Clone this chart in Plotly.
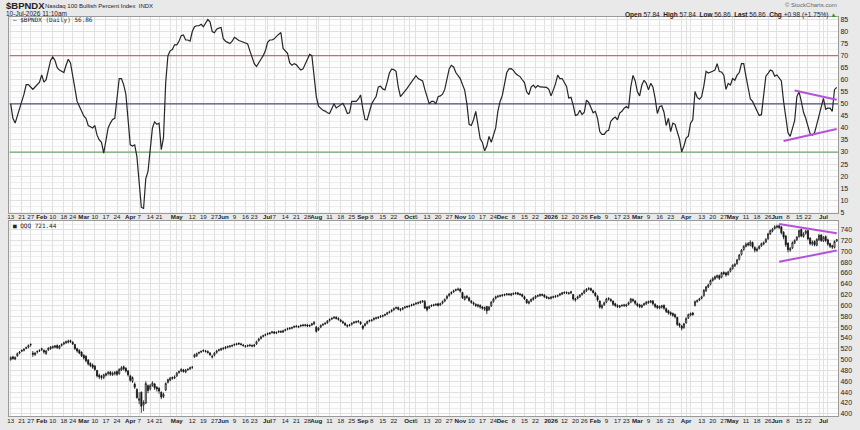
import pandas as pd
import plotly.graph_objects as go

# ---------------- data ----------------
holidays = ["2025-01-20", "2025-02-17", "2025-04-18", "2025-05-26", "2025-06-19", "2025-07-04",
            "2025-09-01", "2025-11-27", "2025-12-25", "2026-01-01", "2026-01-19", "2026-02-16",
            "2026-04-03", "2026-05-25", "2026-06-19", "2026-07-03"]
trading_days = pd.bdate_range("2025-01-13", "2026-07-10")
trading_days = trading_days[~trading_days.isin(pd.to_datetime(holidays))]

bpndx = [
    50, 44, 42, 45, 47, 50, 54, 58, 58, 57,
    56, 57, 58, 59, 62, 59, 60, 64, 68, 69.5,
    68, 65, 64, 63.5, 63, 66, 68.5, 67, 62, 56,
    51, 49, 47, 45, 44, 41, 40.5, 40, 41, 37,
    35, 34, 29.5, 34, 40, 42, 43.5, 44, 52, 60.5,
    60.5, 58, 54, 45, 33, 32.5, 33, 28, 18, 7,
    6.6, 19, 22, 30, 40, 42.5, 41.5, 42, 31, 36,
    59, 70, 72, 72.5, 74.5, 74.5, 76, 78.3, 78.6, 76.5,
    76.5, 76, 80, 82, 82.4, 82.4, 83, 82, 83.5, 85,
    84, 80, 79.5, 81, 81.4, 81.7, 77, 76, 75.5, 75,
    76, 77.6, 77, 76.3, 76, 75.7, 75.3, 74.9, 72, 69,
    66.7, 65.5, 67.3, 68.5, 70, 72, 75.5, 76.5, 76.5, 77,
    78, 79, 79.6, 73, 71.8, 71, 67, 66, 66.7, 66.2,
    65, 64, 64.5, 66.5, 68, 70.5, 70, 62, 53, 49,
    48, 47.3, 47, 46.3, 46, 48, 50, 48.3, 48.9, 49.6,
    50.2, 48.5, 46, 46.3, 51, 51, 51, 52, 53.7, 48,
    43.5, 43.4, 47, 50, 51.6, 53, 57, 57.3, 56.2, 55.8,
    59, 62.8, 64.4, 64.2, 63.5, 57, 53, 54, 55.3, 56.4,
    57.8, 59, 60.3, 61.7, 60.5, 60, 59.5, 56, 53, 50,
    51, 51, 50, 53, 53.3, 54, 56, 60, 64.5, 66,
    65.3, 63, 61.5, 60.5, 58, 55.7, 50, 41.5, 41, 43.4,
    46.9, 42, 35.5, 34, 30.5, 32.5, 36.5, 34, 37.3, 40,
    47, 51, 53.5, 58.5, 63, 64.5, 64.6, 63.9, 62.6, 61.9,
    61.3, 60, 58.8, 55, 53.8, 57, 57.8, 56.6, 57.6, 57,
    57, 57, 56.8, 56, 53.3, 55.7, 58.3, 61.9, 60.5, 60.5,
    59, 57.2, 52.4, 52.7, 49.5, 45.2, 45.5, 47.3, 45.6, 46.5,
    51.5, 50.6, 48.5, 46.3, 46.9, 44, 38.5, 37.3, 37.3, 38.6,
    39, 42.8, 43.8, 44.5, 43.4, 46.2, 46.9, 48.2, 48.9, 48.2,
    57, 61.8, 59.5, 55, 53.3, 57.8, 59.8, 58.5, 55.8, 58.5,
    57, 52.3, 46, 48.8, 49.2, 46.5, 41, 44, 38.5, 42,
    41.5, 38.8, 35.3, 30.1, 32.5, 35.8, 36.6, 42, 43.4, 55.1,
    52.7, 51.9, 53, 57.5, 63.5, 62.8, 63, 63.5, 64, 66.7,
    63.4, 63.2, 62, 56, 58.5, 57.8, 60.5, 59.8, 61.9, 63,
    66.7, 66.7, 61.5, 56, 52, 51, 48.9, 47.5, 45.2, 45.5,
    55, 61.5, 62.6, 64, 63.6, 61.5, 62, 60.5, 59.5, 51,
    45, 38, 36.5, 40, 43, 53, 55, 51, 46.5, 44,
    41, 37.5, 37, 38, 41.5, 45, 48, 52.3, 47.8, 48.2,
    48.2, 46.9, 55.88, 56.86]

qqq_open = [
    500, 505, 501, 507, 512, 517, 517, 521, 523, 527,
    512, 509, 514, 516, 520, 517, 511, 518, 520, 522,
    523, 526, 521, 526, 529, 531, 532, 535, 532, 528,
    520, 517, 514, 508, 506, 499, 493, 490, 488, 480,
    471, 469, 467, 471, 474, 477, 472, 474, 478, 474,
    481, 487, 484, 479, 470, 460, 455, 445, 425, 440,
    416, 420, 452, 446, 452, 455, 449, 447, 440, 432,
    444, 458, 462, 465, 466, 470, 476, 479, 481, 477,
    482, 483, 486, 505, 507, 512, 514, 516, 516, 515,
    512, 506, 508, 513, 517, 518, 520, 521, 523, 524,
    525, 527, 528, 530, 529, 527, 524, 525, 527, 526,
    525, 529, 535, 539, 543, 545, 547, 548, 550, 551,
    549, 551, 552, 551, 554, 556, 557, 558, 560, 562,
    560, 562, 564, 563, 564, 562, 564, 566, 560, 555,
    560, 564, 566, 568, 572, 575, 577, 578, 576, 573,
    570, 567, 563, 563, 565, 568, 569, 571, 569, 562,
    563, 567, 571, 572, 574, 576, 577, 579, 580, 582,
    584, 587, 589, 592, 595, 596, 593, 593, 596, 597,
    598, 600, 601, 603, 604, 605, 607, 607, 597, 595,
    599, 600, 601, 603, 601, 604, 608, 613, 618, 622,
    625, 628, 629, 630, 624, 611, 617, 614, 608, 605,
    602, 601, 600, 597, 593, 598, 592, 599, 607, 613,
    616, 617, 618, 619, 620, 621, 619, 621, 622, 623,
    621, 620, 616, 611, 604, 608, 611, 614, 617, 618,
    620, 619, 616, 614, 613, 615, 616, 617, 619, 621,
    623, 624, 622, 623, 620, 610, 613, 616, 620, 623,
    627, 630, 631, 627, 623, 617, 608, 596, 601, 606,
    613, 611, 608, 603, 600, 597, 600, 601, 599, 602,
    606, 611, 608, 603, 601, 597, 601, 603, 605, 606,
    608, 602, 599, 595, 597, 600, 594, 590, 587, 585,
    583, 578, 566, 562, 559, 568, 577, 582, 586, 600,
    607, 610, 613, 618, 627, 634, 639, 646, 649, 652,
    655, 652, 661, 660, 657, 663, 668, 673, 677, 685,
    694, 703, 709, 714, 711, 716, 707, 701, 705, 710,
    713, 717, 723, 732, 737, 742, 744, 747, 745, 735,
    728, 715, 702, 706, 715, 721, 727, 740, 727, 733,
    738, 724, 713, 718, 711, 721, 730, 719, 727, 721,
    714, 710, 707, 719]

qqq_high = [
    506, 507, 506, 513, 516, 519, 521, 524, 528, 530,
    516, 514, 517, 519, 522, 519, 518, 523, 525, 526,
    527, 528, 527, 530, 533, 535, 537, 537, 534, 529,
    522, 519, 515, 510, 508, 501, 495, 493, 490, 481,
    474, 472, 474, 476, 479, 479, 478, 479, 480, 484,
    488, 489, 486, 481, 472, 469, 458, 447, 440, 441,
    425, 460, 454, 455, 460, 457, 451, 449, 441, 439,
    458, 465, 468, 469, 471, 477, 480, 484, 483, 483,
    484, 487, 488, 511, 513, 515, 517, 519, 518, 517,
    514, 509, 514, 518, 520, 522, 523, 525, 526, 527,
    528, 530, 531, 532, 531, 529, 527, 528, 529, 528,
    529, 535, 540, 544, 546, 548, 550, 551, 553, 553,
    552, 554, 554, 555, 557, 559, 560, 561, 563, 564,
    563, 565, 566, 566, 566, 565, 568, 571, 562, 560,
    565, 567, 569, 573, 576, 578, 580, 580, 578, 575,
    572, 569, 565, 566, 569, 571, 572, 573, 571, 564,
    568, 572, 574, 575, 578, 579, 580, 582, 583, 585,
    588, 590, 593, 596, 598, 598, 595, 597, 599, 600,
    601, 603, 604, 606, 607, 609, 610, 610, 599, 600,
    602, 603, 604, 605, 605, 609, 613, 619, 623, 626,
    629, 631, 633, 632, 625, 618, 619, 616, 610, 607,
    604, 603, 602, 599, 598, 599, 599, 608, 614, 618,
    619, 620, 621, 622, 623, 623, 623, 624, 625, 625,
    623, 622, 618, 612, 609, 613, 616, 619, 620, 622,
    622, 621, 618, 616, 617, 618, 619, 620, 623, 625,
    626, 626, 625, 627, 621, 614, 618, 621, 624, 629,
    632, 634, 633, 629, 625, 619, 609, 602, 607, 614,
    615, 613, 609, 605, 602, 601, 602, 603, 603, 607,
    614, 613, 610, 605, 603, 602, 605, 608, 609, 610,
    610, 604, 601, 600, 601, 602, 596, 592, 589, 587,
    585, 579, 568, 564, 568, 578, 585, 587, 588, 609,
    611, 614, 618, 630, 636, 640, 648, 652, 655, 657,
    657, 662, 663, 662, 664, 670, 676, 678, 686, 695,
    704, 711, 716, 717, 720, 718, 709, 707, 711, 716,
    718, 724, 734, 740, 743, 748, 749, 749, 746, 737,
    730, 716, 708, 718, 722, 728, 740, 742, 735, 740,
    740, 726, 720, 720, 724, 732, 731, 728, 729, 723,
    716, 712, 720, 722]

qqq_low = [
    498, 500, 499, 505, 510, 514, 515, 519, 521, 524,
    505, 507, 511, 514, 516, 511, 509, 516, 518, 520,
    521, 520, 519, 524, 527, 529, 530, 531, 527, 518,
    513, 510, 505, 500, 495, 489, 486, 483, 479, 467,
    464, 463, 464, 469, 471, 470, 470, 471, 470, 472,
    479, 480, 476, 469, 459, 457, 446, 428, 418, 402,
    405, 418, 438, 443, 450, 444, 441, 437, 427, 429,
    442, 456, 460, 463, 464, 468, 474, 477, 476, 475,
    479, 481, 483, 503, 505, 510, 512, 514, 513, 511,
    507, 502, 506, 511, 515, 516, 518, 519, 521, 522,
    523, 525, 526, 527, 526, 524, 522, 523, 524, 523,
    523, 527, 533, 537, 541, 543, 545, 546, 548, 547,
    547, 549, 549, 549, 552, 554, 555, 556, 558, 559,
    558, 560, 561, 561, 560, 560, 562, 564, 550, 553,
    558, 562, 564, 566, 570, 573, 575, 574, 572, 569,
    566, 562, 559, 561, 563, 566, 567, 568, 564, 555,
    561, 565, 569, 570, 572, 574, 575, 577, 578, 580,
    582, 585, 587, 590, 593, 591, 589, 591, 594, 595,
    596, 598, 599, 601, 602, 603, 605, 594, 589, 593,
    597, 598, 599, 598, 599, 602, 606, 611, 616, 620,
    623, 626, 627, 624, 612, 609, 612, 607, 603, 600,
    597, 596, 594, 592, 590, 584, 590, 597, 605, 611,
    614, 615, 616, 617, 618, 618, 617, 619, 620, 619,
    618, 615, 610, 603, 602, 606, 609, 612, 615, 616,
    617, 614, 612, 611, 611, 613, 614, 615, 617, 619,
    621, 621, 620, 621, 609, 607, 611, 614, 618, 621,
    625, 628, 626, 622, 616, 607, 594, 593, 599, 604,
    609, 606, 599, 597, 595, 595, 597, 597, 597, 600,
    604, 606, 601, 597, 595, 595, 599, 601, 603, 604,
    600, 595, 593, 593, 594, 592, 586, 583, 581, 579,
    576, 562, 559, 554, 557, 566, 575, 580, 581, 598,
    605, 608, 611, 616, 625, 632, 637, 644, 647, 650,
    647, 650, 656, 653, 655, 661, 666, 671, 675, 683,
    692, 701, 707, 709, 709, 705, 698, 699, 703, 708,
    711, 715, 721, 730, 735, 740, 742, 741, 731, 722,
    708, 698, 699, 704, 713, 719, 725, 726, 725, 731,
    720, 711, 710, 709, 709, 719, 717, 717, 717, 710,
    706, 704, 705, 717]

qqq_close = [
    504, 502, 504, 511, 514, 516, 519, 522, 526, 528,
    510, 512, 515, 517, 519, 514, 516, 521, 523, 524,
    525, 522, 525, 528, 531, 533, 534, 533, 529, 520,
    516, 512, 507, 503, 498, 492, 489, 486, 482, 470,
    468, 467, 472, 474, 476, 473, 475, 476, 473, 482,
    485, 483, 479, 472, 462, 467, 449, 430, 428, 414,
    421, 456, 443, 452, 457, 448, 446, 442, 431, 436,
    456, 463, 466, 467, 468, 475, 478, 482, 478, 481,
    482, 485, 486, 509, 511, 513, 515, 517, 515, 513,
    509, 505, 512, 516, 518, 520, 521, 523, 524, 525,
    526, 528, 529, 529, 528, 526, 525, 526, 526, 525,
    527, 533, 538, 542, 544, 546, 548, 549, 551, 549,
    550, 552, 551, 553, 555, 557, 558, 559, 561, 561,
    561, 563, 563, 564, 562, 563, 566, 569, 552, 558,
    563, 565, 567, 571, 574, 576, 578, 576, 574, 571,
    568, 564, 562, 564, 567, 569, 570, 570, 566, 558,
    566, 570, 572, 573, 576, 577, 578, 580, 581, 583,
    586, 588, 591, 594, 596, 593, 592, 595, 597, 598,
    599, 601, 602, 604, 605, 607, 608, 595, 592, 598,
    600, 601, 602, 600, 603, 607, 611, 617, 621, 624,
    627, 629, 630, 626, 614, 616, 615, 609, 606, 603,
    600, 599, 597, 595, 596, 590, 597, 606, 612, 616,
    617, 618, 619, 620, 621, 620, 621, 622, 623, 621,
    620, 617, 612, 605, 607, 611, 614, 617, 618, 620,
    619, 616, 614, 613, 615, 616, 617, 618, 621, 623,
    624, 623, 623, 625, 612, 612, 616, 619, 622, 627,
    630, 631, 628, 624, 618, 610, 597, 600, 605, 612,
    612, 609, 602, 600, 598, 599, 600, 600, 601, 605,
    612, 609, 604, 600, 598, 600, 603, 606, 607, 608,
    603, 598, 596, 598, 599, 595, 589, 586, 584, 582,
    579, 565, 563, 558, 566, 576, 583, 585, 583, 607,
    609, 612, 616, 628, 634, 638, 646, 650, 653, 655,
    650, 660, 659, 656, 662, 668, 674, 676, 684, 693,
    702, 709, 713, 712, 717, 708, 702, 704, 709, 714,
    716, 722, 732, 738, 741, 745, 746, 744, 734, 726,
    712, 703, 705, 716, 720, 726, 738, 728, 732, 737,
    723, 714, 717, 712, 722, 729, 720, 726, 720, 713,
    709, 708, 718, 721.44]

tick_dates = [
    "2025-01-13", "2025-01-21", "2025-01-27", "2025-02-03", "2025-02-10", "2025-02-18", "2025-02-24",
    "2025-03-03", "2025-03-10", "2025-03-17", "2025-03-24", "2025-04-01", "2025-04-07", "2025-04-14",
    "2025-04-21", "2025-05-01", "2025-05-12", "2025-05-19", "2025-05-27", "2025-06-02", "2025-06-09",
    "2025-06-16", "2025-06-23", "2025-07-01", "2025-07-07", "2025-07-14", "2025-07-21", "2025-07-28",
    "2025-08-01", "2025-08-11", "2025-08-18", "2025-08-25", "2025-09-02", "2025-09-08", "2025-09-15",
    "2025-09-22", "2025-10-01", "2025-10-06", "2025-10-13", "2025-10-20", "2025-10-27", "2025-11-03",
    "2025-11-10", "2025-11-17", "2025-11-24", "2025-12-01", "2025-12-08", "2025-12-15", "2025-12-22",
    "2026-01-02", "2026-01-12", "2026-01-20", "2026-01-26", "2026-02-02", "2026-02-09", "2026-02-17",
    "2026-02-23", "2026-03-02", "2026-03-09", "2026-03-16", "2026-03-23", "2026-04-01", "2026-04-13",
    "2026-04-20", "2026-04-27", "2026-05-01", "2026-05-11", "2026-05-18", "2026-05-26", "2026-06-01",
    "2026-06-08", "2026-06-15", "2026-06-22", "2026-07-01"]
tick_labels = [
    "13", "21", "27", "<b>Feb</b>", "10", "18", "24",
    "<b>Mar</b>", "10", "17", "24", "<b>Apr</b>", "7", "14",
    "21", "<b>May</b>", "12", "19", "27", "<b>Jun</b>", "9",
    "16", "23", "<b>Jul</b>", "7", "14", "21", "28",
    "<b>Aug</b>", "11", "18", "25", "<b>Sep</b>", "8", "15",
    "22", "<b>Oct</b>", "6", "13", "20", "27", "<b>Nov</b>",
    "10", "17", "24", "<b>Dec</b>", "8", "15", "22",
    "<b>2026</b>", "12", "20", "26", "<b>Feb</b>", "9", "17",
    "23", "<b>Mar</b>", "9", "16", "23", "<b>Apr</b>", "13",
    "20", "27", "<b>May</b>", "11", "18", "26", "<b>Jun</b>",
    "8", "15", "22", "<b>Jul</b>"]

ref_levels = [70, 50, 30]
ref_colors = ["#d06a6a", "#4e4e7e", "#6fa86f"]

bp_trend_upper_dates, bp_trend_upper_vals = ["2026-06-11", "2026-07-10"], [55.5, 51.7]
bp_trend_lower_dates, bp_trend_lower_vals = ["2026-06-04", "2026-07-10"], [34.6, 39.6]
qqq_trend_upper_dates, qqq_trend_upper_vals = ["2026-06-02", "2026-07-10"], [750.4, 733.0]
qqq_trend_lower_dates, qqq_trend_lower_vals = ["2026-06-02", "2026-07-10"], [680.4, 701.2]

# ---------------- positions ----------------
n = min(len(trading_days), len(bpndx), len(qqq_close))
days = trading_days[:n]
xi = list(range(n))


def pos(d):
    return int(days.get_loc(pd.Timestamp(d)))


tick_pos = [pos(d) for d in tick_dates]
week_starts = [i for i in range(n) if i == 0 or days[i].weekday() < days[i - 1].weekday()]
minor_pos = [i for i in week_starts if i not in tick_pos]

W, H = 860, 430
PX0, PX1 = 7.5, 838
TOP0, TOP1 = 16, 213.5
BOT0, BOT1 = 222, 419
xdom = [PX0 / W, PX1 / W]
ytop_dom = [1 - TOP1 / H, 1 - TOP0 / H]
ybot_dom = [1 - BOT1 / H, 1 - BOT0 / H]
xrange_ = [-0.55, n - 1 + 0.6]

GRID = "#e1e1e1"
MINOR = "#eeeeee"
LINE = "#9a9a9a"
TXT = "#222222"
FONT = "Liberation Sans"

fig = go.Figure()

# horizontal reference levels (drawn first, under the indicator line)
for lv, col in zip(ref_levels, ref_colors):
    fig.add_trace(go.Scatter(x=[xrange_[0], xrange_[1]], y=[lv, lv], mode="lines",
                             line=dict(color=col, width=1.2), xaxis="x", yaxis="y", hoverinfo="skip"))

fig.add_trace(go.Scatter(x=xi, y=bpndx[:n], mode="lines", line=dict(color="#262626", width=1.2),
                         xaxis="x", yaxis="y", hoverinfo="skip"))
fig.add_trace(go.Candlestick(x=xi, open=qqq_open[:n], high=qqq_high[:n], low=qqq_low[:n], close=qqq_close[:n],
                             increasing=dict(line=dict(color="#111111", width=0.8), fillcolor="#ffffff"),
                             decreasing=dict(line=dict(color="#111111", width=0.8), fillcolor="#111111"),
                             whiskerwidth=0, xaxis="x2", yaxis="y2", hoverinfo="skip"))

for dts, vals, ax in [(bp_trend_upper_dates, bp_trend_upper_vals, "y"),
                      (bp_trend_lower_dates, bp_trend_lower_vals, "y"),
                      (qqq_trend_upper_dates, qqq_trend_upper_vals, "y2"),
                      (qqq_trend_lower_dates, qqq_trend_lower_vals, "y2")]:
    fig.add_trace(go.Scatter(x=[pos(d) for d in dts], y=vals, mode="lines",
                             line=dict(color="#b552d9", width=2),
                             xaxis="x" if ax == "y" else "x2", yaxis=ax, hoverinfo="skip"))

xaxis_common = dict(domain=xdom, range=xrange_, tickmode="array", tickvals=tick_pos, ticktext=tick_labels,
                    tickangle=0, tickfont=dict(family=FONT, size=6.2, color=TXT),
                    showgrid=True, gridcolor=GRID, gridwidth=1,
                    minor=dict(tickvals=minor_pos, showgrid=True, gridcolor=GRID, gridwidth=1),
                    showline=True, linecolor=LINE, linewidth=1, mirror=True, zeroline=False, ticks="",
                    fixedrange=True, ticklabelstandoff=-2)

fig.update_layout(
    width=W, height=H, margin=dict(l=0, r=0, t=0, b=0),
    paper_bgcolor="#e9e9e9", plot_bgcolor="#fdfdfd", showlegend=False,
    xaxis=dict(anchor="y", **xaxis_common),
    xaxis2=dict(anchor="y2", rangeslider=dict(visible=False), **xaxis_common),
    yaxis=dict(domain=ytop_dom, range=[4.9, 86.1], side="right", tickmode="array",
               tickvals=list(range(5, 90, 5)), tickfont=dict(family=FONT, size=7, color=TXT),
               showgrid=True, gridcolor=GRID, showline=True, linecolor=LINE, mirror=True,
               zeroline=False, ticks="", anchor="x", fixedrange=True,
               minor=dict(dtick=2.5, tick0=2.5, showgrid=True, gridcolor=MINOR)),
    yaxis2=dict(domain=ybot_dom, range=[395.8, 755.9], side="right", tickmode="array",
                tickvals=list(range(400, 760, 20)), tickfont=dict(family=FONT, size=7, color=TXT),
                showgrid=True, gridcolor=GRID, showline=True, linecolor=LINE, mirror=True,
                zeroline=False, ticks="", anchor="x2", fixedrange=True,
                minor=dict(dtick=10, tick0=410, showgrid=True, gridcolor=MINOR)),
)


def ann(text, px, py, size=7, xanchor="left", family=FONT, color=TXT):
    fig.add_annotation(text=text, x=px / W, y=1 - py / H, xref="paper", yref="paper",
                       xanchor=xanchor, yanchor="middle", showarrow=False,
                       font=dict(family=family, size=size, color=color))


ann("<b>$BPNDX</b>", 2, 5, size=9.5)
ann("Nasdaq 100 Bullish Percent Index  INDX", 41, 5.5, size=6)
ann("10-Jul-2026 11:10am", 2, 13, size=6.5)
ann("© StockCharts.com", 839, 4.5, size=6, xanchor="right", color="#666666")
ann("<b>Open</b> 57.84  <b>High</b> 57.84  <b>Low</b> 56.86  <b>Last</b> 56.86  <b>Chg</b> +0.98 (+1.75%) "
    "<span style='color:#2a9a2a'>▲</span>", 839, 14, size=6.5, xanchor="right")
ann("— $BPNDX (Daily) 56.86", 9, 19.5, size=6, family="DejaVu Sans Mono")
ann("■ QQQ 721.44", 9, 227, size=6, family="DejaVu Sans Mono")

fig.write_html("out.html")
